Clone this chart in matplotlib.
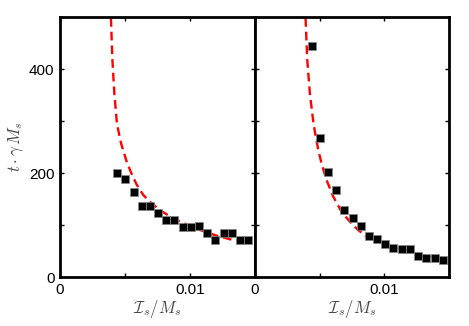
import numpy as np
import matplotlib
matplotlib.use("Agg")
import matplotlib.pyplot as plt

plt.rcParams['font.family'] = ['Liberation Sans', 'DejaVu Sans']
plt.rcParams['mathtext.fontset'] = 'cm'

# left panel: simulation points and fitted curve
x_left = [0.00436, 0.00502, 0.00567, 0.00628, 0.0069, 0.00754, 0.00818, 0.00877,
          0.00944, 0.01008, 0.0107, 0.01131, 0.01195, 0.0126, 0.01323, 0.01385, 0.0145]
t_left = [200, 188, 163, 136, 136, 124, 110, 110, 97, 97, 99, 85, 72, 86, 86, 72, 72]
fit_x_left = [0.00392, 0.00403, 0.00418, 0.00438, 0.00469, 0.00513, 0.00552, 0.0059,
              0.00641, 0.00692, 0.00769, 0.00846, 0.00923, 0.01, 0.01077, 0.01192,
              0.01308, 0.01462]
fit_t_left = [498, 418, 354, 295, 258, 222, 198, 178, 158, 145, 129, 117, 107, 99,
              91, 81, 73, 66]

# right panel
x_right = [0.004375, 0.005015, 0.00563, 0.00628, 0.00692, 0.00756, 0.0082, 0.00882,
           0.00944, 0.01008, 0.0107, 0.01134, 0.01196, 0.0126, 0.01325, 0.01389, 0.0145]
t_right = [445, 268, 202, 167, 129, 113, 99, 79, 74, 63, 56, 54, 55, 40, 37, 37, 33]
fit_x_right = [0.00391, 0.00404, 0.00424, 0.0045, 0.00463, 0.00489, 0.00514, 0.00553,
               0.00605, 0.00669, 0.00733, 0.00797, 0.00862, 0.00978, 0.0104, 0.01222,
               0.01325, 0.01458]
fit_t_right = [498, 418, 354, 300, 280, 245, 219, 187, 155, 126, 107, 91, 78, 66, 60,
               47, 41, 36]

xticks = [0, 0.005, 0.01, 0.015]
xticklabels = ['0', '', '0.01', '']
yticks = [0, 100, 200, 300, 400, 500]
yticklabels = ['0', '', '200', '', '400', '']

fig = plt.figure(figsize=(4.69, 3.26), dpi=100)
ax1 = fig.add_axes([0.1279, 0.1494, 0.4158, 0.7985])
ax2 = fig.add_axes([0.5437, 0.1494, 0.4136, 0.7985])

panels = [(ax1, x_left, t_left, fit_x_left, fit_t_left),
          (ax2, x_right, t_right, fit_x_right, fit_t_right)]
for ax, xs, ts, fx, ft in panels:
    ax.plot(fx, ft, color='red', ls=(0, (3.7, 2.1)), lw=1.7, zorder=2)
    ax.plot(xs, ts, 's', color='black', markeredgecolor='#888888',
            markeredgewidth=0.5, markersize=5.2, zorder=3)
    ax.set_xlim(0, 0.015)
    ax.set_ylim(0, 500)
    ax.set_xticks(xticks)
    ax.set_xticklabels(xticklabels)
    ax.set_yticks(yticks)
    ax.tick_params(direction='in', length=3, width=1, top=True, right=True,
                   labelsize=11, pad=4)
    for s in ax.spines.values():
        s.set_linewidth(2)
    ax.set_xlabel(r'$\mathcal{I}_s/M_s$', fontsize=12, color='#444444', labelpad=1)

ax1.set_yticklabels(yticklabels)
ax1.set_ylabel(r'$t\cdot\gamma\,M_s$', fontsize=12, color='#444444', labelpad=2)
ax2.set_yticklabels([])

fig.savefig('out.png', dpi=100)
